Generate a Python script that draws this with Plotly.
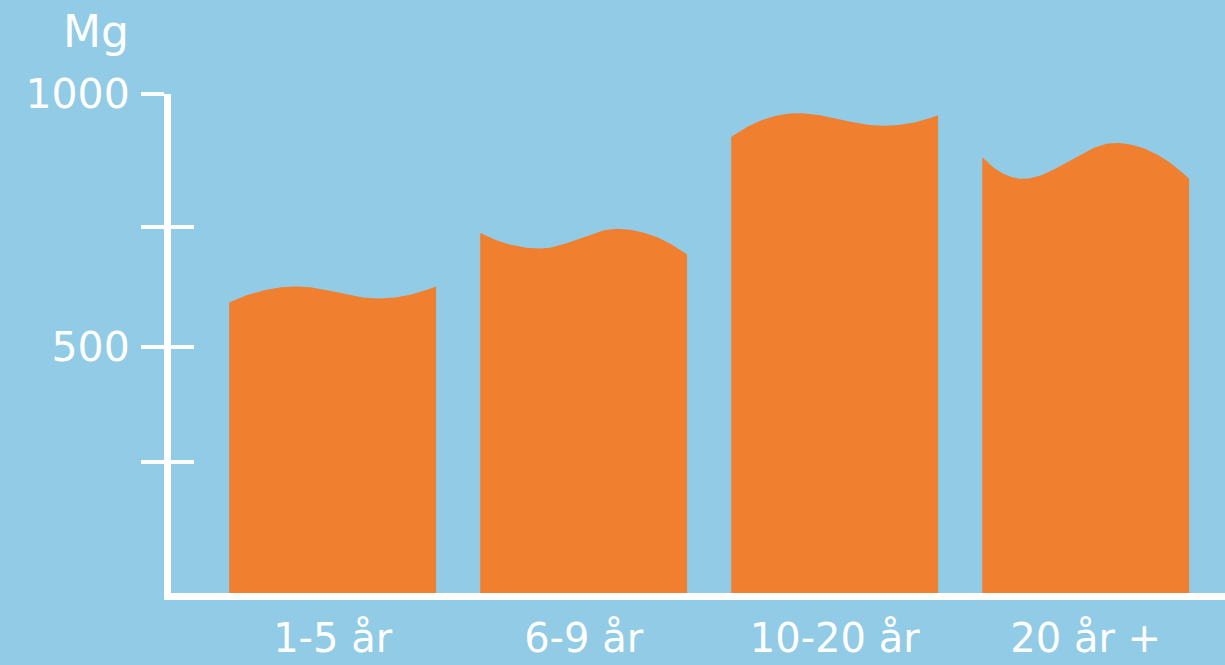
import numpy as np
import plotly.graph_objects as go

# ---------------- data ----------------
categories = ["1-5 år", "6-9 år", "10-20 år", "20 år +"]
# wavy top profile of each bar (Mg): left edge, first extremum, second extremum, right edge
top_left = [587, 725, 915, 875]
top_ext1 = [619, 694, 962, 832]
top_ext2 = [595, 733, 937, 903]
top_right = [619, 682, 958, 832]
y_tick_vals = [271, 500, 737, 1000]
y_tick_text = ["", "500", "", "1000"]
y_unit = "Mg"

# ---------------- style ----------------
BG = "#92CBE5"
ORANGE = "#F07F2F"
WHITE = "#FFFFFF"
FONT = "DejaVu Sans"
HALF_W = 0.412
EXT1_OFF = [-0.141, -0.173, -0.145, -0.249]
EXT2_OFF = [0.177, 0.133, 0.193, 0.118]
Y_MIN, Y_MAX = 12, 1000


def hermite(x0, y0, m0, x1, y1, m1, n=40):
    t = np.linspace(0, 1, n)
    h = x1 - x0
    h00 = 2 * t**3 - 3 * t**2 + 1
    h10 = t**3 - 2 * t**2 + t
    h01 = -2 * t**3 + 3 * t**2
    h11 = t**3 - t**2
    return x0 + t * h, h00 * y0 + h10 * h * m0 + h01 * y1 + h11 * h * m1


fig = go.Figure()
for i, cat in enumerate(categories):
    xs = [i - HALF_W, i + EXT1_OFF[i], i + EXT2_OFF[i], i + HALF_W]
    ys = [top_left[i], top_ext1[i], top_ext2[i], top_right[i]]
    m = [2 * (ys[1] - ys[0]) / (xs[1] - xs[0]), 0.0, 0.0,
         2 * (ys[3] - ys[2]) / (xs[3] - xs[2])]
    px, py = [xs[0]], [Y_MIN - 50]
    for k in range(3):
        cx, cy = hermite(xs[k], ys[k], m[k], xs[k + 1], ys[k + 1], m[k + 1])
        px += list(cx)
        py += list(cy)
    px += [xs[3]]
    py += [Y_MIN - 50]
    fig.add_trace(go.Scatter(x=px, y=py, fill="toself", fillcolor=ORANGE,
                             mode="lines", line=dict(width=0, color=ORANGE),
                             name=cat, hoverinfo="skip", showlegend=False))

# invisible trace to carry the secondary (inner tick) axis
fig.add_trace(go.Scatter(x=[0], y=[500], mode="none", yaxis="y2",
                         showlegend=False, hoverinfo="skip"))

tickfont = dict(family=FONT, size=41, color=WHITE)
xtickfont = dict(family=FONT, size=40, color=WHITE)
fig.update_layout(
    width=1225, height=665,
    margin=dict(l=171, r=0, t=94, b=72, autoexpand=False),
    paper_bgcolor=BG, plot_bgcolor=BG,
    xaxis=dict(range=[-0.644, 3.555], showgrid=False, zeroline=False,
               showline=True, linecolor=WHITE, linewidth=7,
               tickvals=list(range(len(categories))), ticktext=categories,
               ticks="", tickfont=xtickfont, ticklabelstandoff=4,
               automargin=False, fixedrange=True),
    yaxis=dict(range=[Y_MIN, Y_MAX], showgrid=False, zeroline=False,
               showline=True, linecolor=WHITE, linewidth=7,
               tickvals=y_tick_vals, ticktext=y_tick_text,
               ticks="outside", ticklen=23, tickwidth=4, tickcolor=WHITE,
               tickfont=tickfont, ticklabelstandoff=3,
               automargin=False, fixedrange=True),
    yaxis2=dict(range=[Y_MIN, Y_MAX], overlaying="y", side="left",
                showgrid=False, zeroline=False, showline=False,
                tickvals=y_tick_vals, showticklabels=False,
                ticks="inside", ticklen=23, tickwidth=4, tickcolor=WHITE,
                automargin=False, fixedrange=True),
    annotations=[dict(text=y_unit, xref="paper", yref="paper",
                      x=-0.071, y=1.126, xanchor="center", yanchor="middle",
                      showarrow=False,
                      font=dict(family=FONT, size=44, color=WHITE))],
)

fig.write_html("out.html", config={"displayModeBar": False})
